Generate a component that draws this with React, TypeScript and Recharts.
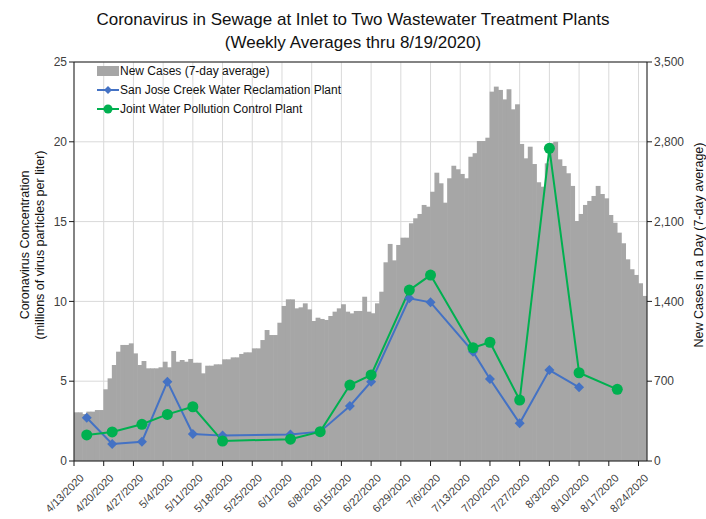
import { ComposedChart, Bar, Line, XAxis, YAxis, CartesianGrid, ReferenceLine } from 'recharts'

// daily new cases (7-day average), one value per day starting 4/13/2020
const caseStart = '4/13/2020'
const newCases = [
  427, 427, 412, 433, 433, 447, 447, 629, 725, 842, 959, 1018, 1018, 1032, 944, 842, 877, 813, 813, 813,
  822, 871, 822, 965, 871, 886, 871, 895, 862, 862, 769, 836, 836, 848, 848, 892, 892, 909, 909, 939,
  953, 953, 988, 988, 1061, 1149, 1105, 1105, 1213, 1360, 1418, 1418, 1339, 1348, 1383, 1330, 1228, 1257, 1246, 1237,
  1272, 1310, 1339, 1375, 1310, 1295, 1316, 1316, 1441, 1310, 1296, 1383, 1485, 1743, 1904, 1760, 1895, 1959, 1959, 2085,
  2129, 2167, 2246, 2231, 2362, 2529, 2436, 2266, 2480, 2590, 2559, 2518, 2480, 2669, 2700, 2807, 2807, 2836, 3240, 3284,
  3255, 3172, 3261, 3085, 3129, 2781, 2655, 2757, 2605, 2445, 2406, 2611, 2790, 2801, 2646, 2588, 2524, 2413, 2105, 2167,
  2246, 2281, 2325, 2413, 2342, 2304, 2158, 2090, 2003, 1910, 1769, 1682, 1632, 1559, 1448,
]

// weekly sewage samples
const sanJoseDates = [
  '4/16/2020', '4/22/2020', '4/29/2020', '5/5/2020', '5/11/2020', '5/18/2020', '6/3/2020', '6/10/2020', '6/17/2020',
  '6/22/2020', '7/1/2020', '7/6/2020', '7/16/2020', '7/20/2020', '7/27/2020', '8/3/2020', '8/10/2020',
]
const sanJose = [2.71, 1.07, 1.21, 4.97, 1.69, 1.59, 1.66, 1.84, 3.45, 4.97, 10.19, 9.94, 6.85, 5.14, 2.36, 5.7, 4.62]

const jointDates = [
  '4/16/2020', '4/22/2020', '4/29/2020', '5/5/2020', '5/11/2020', '5/18/2020', '6/3/2020', '6/10/2020', '6/17/2020',
  '6/22/2020', '7/1/2020', '7/6/2020', '7/16/2020', '7/20/2020', '7/27/2020', '8/3/2020', '8/10/2020', '8/19/2020',
]
const jointWater = [1.63, 1.82, 2.3, 2.92, 3.4, 1.25, 1.37, 1.84, 4.76, 5.39, 10.71, 11.65, 7.1, 7.44, 3.82, 19.59, 5.53, 4.49]

const weekLabels = [
  '4/13/2020', '4/20/2020', '4/27/2020', '5/4/2020', '5/11/2020', '5/18/2020', '5/25/2020', '6/1/2020', '6/8/2020', '6/15/2020',
  '6/22/2020', '6/29/2020', '7/6/2020', '7/13/2020', '7/20/2020', '7/27/2020', '8/3/2020', '8/10/2020', '8/17/2020', '8/24/2020',
]

const leftTicks = [0, 5, 10, 15, 20, 25]
const rightTicks = [0, 700, 1400, 2100, 2800, 3500]

const toUtc = (s: string) => {
  const [m, d, y] = s.split('/').map(Number)
  return Date.UTC(y, m - 1, d)
}
const dayOf = (s: string) => Math.round((toUtc(s) - toUtc(caseStart)) / 86400000)

const caseRows = newCases.map((v, i) => ({ day: i + 0.5, cases: v }))
const sanJoseRows = sanJoseDates.map((d, i) => ({ day: dayOf(d), value: sanJose[i] }))
const jointRows = jointDates.map((d, i) => ({ day: dayOf(d), value: jointWater[i] }))
const weekTicks = weekLabels.map(dayOf)
const labelOfDay: Record<number, string> = {}
weekLabels.forEach((l) => (labelOfDay[dayOf(l)] = l))

const FONT = '"Liberation Sans", Arial, sans-serif'
const BLUE = '#4472c4'
const GREEN = '#00b050'
const GRAY = '#a6a6a6'
const AXIS = '#1a1a1a'
const DAY_PX = 573 / 135 // width of one day column, so adjacent columns touch

const DateTick = ({ x, y, payload }: any) => (
  <g transform={`translate(${x + 5},${y + 5})`}>
    <text x={0} y={0} dy={8} textAnchor="end" transform="rotate(-45)" fill="#404040" fontSize={11} fontFamily={FONT}>
      {labelOfDay[payload.value]}
    </text>
  </g>
)

// full-width column centred where recharts put the bar
const DayColumn = (props: any) => {
  const { x, y, width, height } = props
  if (!height || height <= 0) return <g />
  const cx = x + width / 2
  return <rect x={cx - DAY_PX / 2 - 0.3} y={y} width={DAY_PX + 0.6} height={height} fill={GRAY} />
}

const Diamond = (props: any) => {
  const { cx, cy, index } = props
  if (cx == null || cy == null) return <g key={`sd-${index}`} />
  return <path key={`sd-${index}`} d={`M${cx},${cy - 5} L${cx + 5},${cy} L${cx},${cy + 5} L${cx - 5},${cy} Z`} fill={BLUE} />
}

const Circle = (props: any) => {
  const { cx, cy, index } = props
  if (cx == null || cy == null) return <g key={`jc-${index}`} />
  return <circle key={`jc-${index}`} cx={cx} cy={cy} r={5.5} fill={GREEN} />
}

const LegendRow = ({ kind, label }: { kind: 'bar' | 'blue' | 'green'; label: string }) => (
  <div style={{ display: 'flex', alignItems: 'center', height: 19 }}>
    <svg width={22} height={12} style={{ marginRight: 1 }}>
      {kind === 'bar' && <rect x={0} y={1} width={22} height={10} fill={GRAY} />}
      {kind === 'blue' && (
        <>
          <line x1={0} y1={6} x2={22} y2={6} stroke={BLUE} strokeWidth={2} />
          <path d="M11,2 L15,6 L11,10 L7,6 Z" fill={BLUE} />
        </>
      )}
      {kind === 'green' && (
        <>
          <line x1={0} y1={6} x2={22} y2={6} stroke={GREEN} strokeWidth={2} />
          <circle cx={11} cy={6} r={4.5} fill={GREEN} />
        </>
      )}
    </svg>
    <span>{label}</span>
  </div>
)

export default function App() {
  return (
    <div style={{ position: 'absolute', left: 0, top: 0, width: 706, height: 519, background: '#fff', fontFamily: FONT }}>
      <div style={{ position: 'absolute', top: 8, left: 0, width: 706, textAlign: 'center', fontSize: 17, lineHeight: '23px', color: '#111' }}>
        Coronavirus in Sewage at Inlet to Two Wastewater Treatment Plants
        <br />
        (Weekly Averages thru 8/19/2020)
      </div>

      <ComposedChart
        width={706}
        height={519}
        data={caseRows}
        margin={{ top: 62, right: 7, left: 34, bottom: 0 }}
        barCategoryGap={0}
        barGap={0}
      >
        <CartesianGrid yAxisId="left" stroke="#d9d9d9" />
        <XAxis
          dataKey="day"
          type="number"
          domain={[0, 135]}
          ticks={weekTicks}
          interval={0}
          allowDataOverflow
          height={58}
          tick={<DateTick />}
          tickSize={5}
          axisLine={{ stroke: AXIS }}
          tickLine={{ stroke: AXIS }}
        />
        <YAxis
          yAxisId="left"
          domain={[0, 25]}
          ticks={leftTicks}
          width={40}
          tickSize={5}
          axisLine={{ stroke: AXIS }}
          tickLine={{ stroke: AXIS }}
          tick={{ fontSize: 12, fill: '#404040', fontFamily: FONT }}
        />
        <YAxis
          yAxisId="right"
          orientation="right"
          domain={[0, 3500]}
          ticks={rightTicks}
          width={52}
          tickSize={5}
          axisLine={{ stroke: AXIS }}
          tickLine={{ stroke: AXIS }}
          tickFormatter={(v: number) => v.toLocaleString('en-US')}
          tick={{ fontSize: 12, fill: '#404040', fontFamily: FONT }}
        />
        <ReferenceLine yAxisId="left" y={25} stroke={AXIS} />
        <Bar yAxisId="right" dataKey="cases" fill={GRAY} shape={<DayColumn />} isAnimationActive={false} />
        <Line
          yAxisId="left"
          data={sanJoseRows}
          dataKey="value"
          stroke={BLUE}
          strokeWidth={2}
          dot={<Diamond />}
          activeDot={false}
          isAnimationActive={false}
        />
        <Line
          yAxisId="left"
          data={jointRows}
          dataKey="value"
          stroke={GREEN}
          strokeWidth={2}
          dot={<Circle />}
          activeDot={false}
          isAnimationActive={false}
        />
      </ComposedChart>

      <div style={{ position: 'absolute', left: 97, top: 61, fontSize: 12, color: '#111' }}>
        <LegendRow kind="bar" label="New Cases (7-day average)" />
        <LegendRow kind="blue" label="San Jose Creek Water Reclamation Plant" />
        <LegendRow kind="green" label="Joint Water Pollution Control Plant" />
      </div>

      <div
        style={{
          position: 'absolute',
          left: 33,
          top: 245,
          transform: 'translate(-50%, -50%) rotate(-90deg)',
          whiteSpace: 'nowrap',
          textAlign: 'center',
          fontSize: 12.5,
          lineHeight: '15px',
          color: '#111',
        }}
      >
        Coronavirus Concentration
        <br />
        (millions of virus particles per liter)
      </div>
      <div
        style={{
          position: 'absolute',
          left: 699,
          top: 245,
          transform: 'translate(-50%, -50%) rotate(-90deg)',
          whiteSpace: 'nowrap',
          fontSize: 12.5,
          color: '#111',
        }}
      >
        New Cases in a Day (7-day average)
      </div>
    </div>
  )
}
